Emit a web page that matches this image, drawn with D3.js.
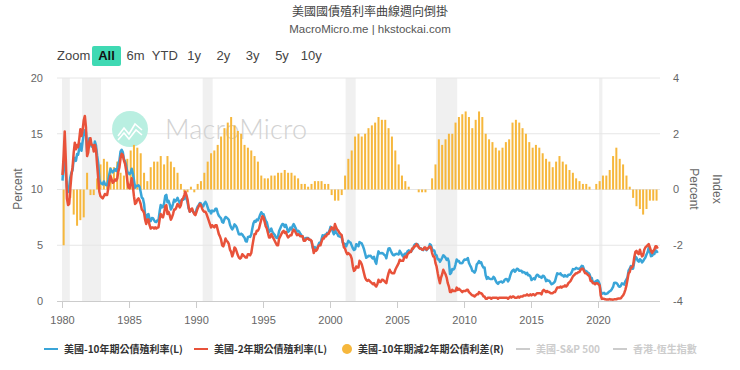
<!DOCTYPE html>
<html lang="zh-Hant">
<head>
<meta charset="UTF-8">
<title>美國國債殖利率曲線週向倒掛</title>
<script src="https://cdn.jsdelivr.net/npm/d3@7"></script>
<style>
    body {
        margin: 0;
        background: #fff;
    }

    svg {
        display: block;
        font-family: "Liberation Sans", Arial, "Noto Sans CJK TC", sans-serif;
    }

    .cjk {
        font-family: "Noto Sans CJK TC", "Liberation Sans", sans-serif;
    }

    .xaxis text {
        fill: #666;
        font-size: 11px;
    }

    .xaxis line, .xaxis path {
        stroke: #ccc;
    }
</style>
</head>
<body>
<div id="chart"></div>
<script>
// 月資料從 1980-01 開始
const startYear = 1980

// 美國-10年期公債殖利率 (月)
const us10y = [
    10.80, 12.41, 12.75, 11.47, 10.18, 9.78, 10.25, 11.10, 11.51, 11.75, 12.68, 12.84,
    12.57, 13.19, 13.12, 13.68, 14.10, 13.47, 14.28, 14.94, 15.32, 15.15, 13.39, 13.72,
    14.59, 14.43, 13.86, 13.87, 13.62, 14.30, 13.95, 13.06, 12.34, 10.91, 10.55, 10.54,
    10.46, 10.72, 10.51, 10.40, 10.38, 10.85, 11.38, 11.85, 11.65, 11.54, 11.69, 11.83,
    11.67, 11.84, 12.32, 12.63, 13.41, 13.56, 13.36, 12.72, 12.52, 12.16, 11.57, 11.50,
    11.38, 11.51, 11.86, 11.43, 10.85, 10.16, 10.31, 10.33, 10.37, 10.24, 9.78, 9.26,
    9.19, 8.70, 7.78, 7.30, 7.71, 7.80, 7.30, 7.17, 7.45, 7.43, 7.25, 7.11,
    7.08, 7.25, 7.25, 8.02, 8.61, 8.40, 8.45, 8.76, 9.42, 9.52, 8.86, 8.99,
    8.67, 8.21, 8.37, 8.72, 9.09, 8.92, 9.06, 9.26, 8.98, 8.80, 8.96, 9.11,
    9.09, 9.17, 9.36, 9.18, 8.86, 8.28, 8.02, 8.11, 8.19, 8.01, 7.87, 7.84,
    8.21, 8.47, 8.59, 8.79, 8.76, 8.48, 8.47, 8.75, 8.89, 8.72, 8.39, 8.08,
    8.09, 7.85, 8.11, 8.04, 8.07, 8.28, 8.27, 7.90, 7.65, 7.53, 7.42, 7.09,
    7.03, 7.34, 7.54, 7.48, 7.39, 7.26, 6.84, 6.59, 6.42, 6.59, 6.87, 6.77,
    6.60, 6.26, 5.98, 5.97, 6.04, 5.96, 5.81, 5.68, 5.36, 5.33, 5.72, 5.77,
    5.75, 5.97, 6.48, 6.97, 7.18, 7.10, 7.30, 7.24, 7.46, 7.74, 7.96, 7.81,
    7.78, 7.47, 7.20, 7.06, 6.63, 6.17, 6.28, 6.49, 6.20, 6.04, 5.93, 5.71,
    5.65, 5.81, 6.27, 6.51, 6.74, 6.91, 6.87, 6.64, 6.83, 6.53, 6.20, 6.30,
    6.58, 6.42, 6.69, 6.89, 6.71, 6.49, 6.22, 6.30, 6.21, 6.03, 5.88, 5.81,
    5.54, 5.57, 5.65, 5.64, 5.65, 5.50, 5.46, 5.34, 4.81, 4.53, 4.83, 4.65,
    4.72, 5.00, 5.23, 5.18, 5.54, 5.90, 5.79, 5.94, 5.92, 6.11, 6.03, 6.28,
    6.66, 6.52, 6.26, 5.99, 6.44, 6.10, 6.05, 5.83, 5.80, 5.74, 5.72, 5.24,
    5.16, 5.10, 4.89, 5.14, 5.39, 5.28, 5.24, 4.97, 4.73, 4.57, 4.65, 5.09,
    5.04, 4.91, 5.28, 5.21, 5.16, 4.93, 4.65, 4.26, 3.87, 3.94, 4.05, 4.03,
    4.05, 3.90, 3.81, 3.96, 3.57, 3.33, 3.98, 4.45, 4.27, 4.29, 4.30, 4.27,
    4.15, 4.08, 3.83, 4.35, 4.72, 4.73, 4.50, 4.28, 4.13, 4.10, 4.19, 4.23,
    4.22, 4.17, 4.50, 4.34, 4.14, 4.00, 4.18, 4.26, 4.20, 4.46, 4.54, 4.47,
    4.42, 4.57, 4.72, 4.99, 5.11, 5.11, 5.09, 4.88, 4.72, 4.73, 4.60, 4.56,
    4.76, 4.72, 4.56, 4.69, 4.75, 5.10, 5.00, 4.67, 4.52, 4.53, 4.15, 4.10,
    3.74, 3.74, 3.51, 3.68, 3.88, 4.10, 4.01, 3.89, 3.69, 3.81, 3.53, 2.42,
    2.52, 2.87, 2.82, 2.93, 3.29, 3.72, 3.56, 3.59, 3.40, 3.39, 3.40, 3.59,
    3.73, 3.69, 3.73, 3.85, 3.42, 3.20, 3.01, 2.70, 2.65, 2.54, 2.76, 3.29,
    3.39, 3.58, 3.41, 3.46, 3.17, 3.00, 3.00, 2.30, 1.98, 2.15, 2.01, 1.98,
    1.97, 1.97, 2.17, 2.05, 1.80, 1.62, 1.53, 1.68, 1.72, 1.75, 1.65, 1.72,
    1.91, 1.98, 1.96, 1.76, 1.93, 2.30, 2.58, 2.74, 2.81, 2.62, 2.72, 2.90,
    2.86, 2.71, 2.72, 2.71, 2.56, 2.60, 2.54, 2.42, 2.53, 2.30, 2.33, 2.21,
    1.88, 1.98, 2.04, 1.94, 2.20, 2.36, 2.32, 2.17, 2.17, 2.07, 2.26, 2.24,
    2.09, 1.78, 1.89, 1.81, 1.81, 1.64, 1.50, 1.56, 1.63, 1.76, 2.14, 2.49,
    2.43, 2.42, 2.48, 2.30, 2.30, 2.19, 2.32, 2.21, 2.20, 2.36, 2.35, 2.40,
    2.58, 2.86, 2.84, 2.87, 2.98, 2.91, 2.89, 2.89, 3.00, 3.15, 3.12, 2.83,
    2.71, 2.68, 2.57, 2.53, 2.40, 2.07, 2.06, 1.63, 1.70, 1.71, 1.81, 1.86,
    1.76, 1.50, 0.87, 0.66, 0.67, 0.73, 0.62, 0.65, 0.68, 0.79, 0.87, 0.93,
    1.08, 1.26, 1.61, 1.64, 1.62, 1.52, 1.32, 1.28, 1.37, 1.58, 1.56, 1.47,
    1.76, 1.93, 2.13, 2.75, 2.90, 3.14, 2.90, 2.90, 3.52, 3.98, 3.89, 3.62,
    3.53, 3.75, 3.66, 3.46, 3.57, 3.75, 3.90, 4.17, 4.38, 4.80, 4.50, 4.02,
    4.06, 4.21, 4.21, 4.54, 4.48, 4.31
]

// 美國-2年期公債殖利率 (月)
const us2y = [
    11.3, 13.1, 15.2, 12.6, 9.2, 8.6, 8.7, 10.1, 11.3, 12.0, 13.3, 14.2,
    13.6, 14.0, 13.8, 14.5, 15.4, 14.8, 15.3, 16.2, 16.6, 15.6, 13.0, 13.3,
    14.3, 14.6, 14.0, 14.0, 13.4, 14.0, 13.6, 12.2, 11.0, 9.8, 9.4, 9.3,
    9.2, 9.4, 9.6, 9.5, 9.5, 10.1, 10.7, 11.2, 10.9, 10.6, 10.7, 10.9,
    10.8, 11.0, 11.6, 12.0, 12.8, 13.2, 13.1, 12.6, 12.3, 11.7, 10.8, 10.2,
    10.1, 10.5, 11.0, 10.3, 9.4, 8.7, 8.8, 9.1, 9.2, 9.0, 8.7, 8.2,
    8.1, 7.9, 7.3, 6.9, 7.3, 7.3, 6.8, 6.5, 6.6, 6.6, 6.5, 6.6,
    6.5, 6.6, 6.6, 7.3, 7.8, 7.6, 7.5, 7.9, 8.5, 8.6, 7.8, 8.0,
    7.7, 7.3, 7.5, 7.8, 8.2, 8.2, 8.4, 8.7, 8.6, 8.4, 8.6, 9.1,
    9.2, 9.5, 9.8, 9.5, 9.1, 8.4, 8.0, 8.2, 8.3, 8.0, 7.8, 7.7,
    8.0, 8.3, 8.5, 8.7, 8.6, 8.3, 8.1, 8.0, 8.0, 7.8, 7.5, 7.2,
    6.9, 6.6, 6.8, 6.7, 6.6, 6.8, 6.8, 6.4, 6.0, 5.8, 5.5, 5.0,
    4.9, 5.2, 5.6, 5.4, 5.3, 5.1, 4.6, 4.4, 4.0, 4.3, 4.8, 4.7,
    4.4, 4.1, 3.9, 3.8, 3.9, 4.2, 4.1, 4.0, 3.9, 3.9, 4.2, 4.2,
    4.1, 4.3, 4.9, 5.5, 6.0, 6.0, 6.3, 6.3, 6.5, 6.9, 7.3, 7.6,
    7.5, 7.1, 6.7, 6.5, 6.1, 5.7, 5.7, 6.0, 5.8, 5.6, 5.4, 5.2,
    5.0, 5.0, 5.6, 5.8, 6.0, 6.2, 6.3, 6.1, 6.2, 5.9, 5.7, 5.8,
    5.9, 5.9, 6.2, 6.4, 6.3, 6.1, 5.9, 6.0, 5.9, 5.8, 5.8, 5.8,
    5.4, 5.4, 5.5, 5.6, 5.6, 5.5, 5.5, 5.4, 4.9, 4.3, 4.6, 4.5,
    4.6, 4.9, 5.0, 5.0, 5.3, 5.6, 5.6, 5.8, 5.8, 6.0, 6.0, 6.2,
    6.4, 6.6, 6.5, 6.4, 6.9, 6.6, 6.4, 6.3, 6.1, 6.0, 5.9, 5.3,
    4.8, 4.7, 4.4, 4.2, 4.3, 4.2, 4.1, 3.8, 3.1, 2.7, 2.8, 3.1,
    3.0, 3.0, 3.6, 3.5, 3.3, 2.9, 2.5, 2.1, 1.9, 1.8, 1.9, 1.8,
    1.7, 1.6, 1.5, 1.6, 1.4, 1.3, 1.5, 1.9, 1.7, 1.7, 1.9, 1.9,
    1.8, 1.7, 1.6, 2.1, 2.5, 2.8, 2.6, 2.5, 2.5, 2.5, 2.8, 3.0,
    3.2, 3.4, 3.7, 3.6, 3.6, 3.6, 3.9, 4.0, 3.9, 4.2, 4.3, 4.4,
    4.4, 4.7, 4.7, 4.9, 4.9, 5.1, 5.0, 4.8, 4.7, 4.7, 4.6, 4.6,
    4.8, 4.8, 4.6, 4.7, 4.8, 4.9, 4.8, 4.3, 4.0, 4.0, 3.4, 3.1,
    2.5, 2.0, 1.6, 2.1, 2.4, 2.8, 2.6, 2.4, 2.1, 1.6, 1.3, 0.8,
    0.8, 1.0, 0.9, 0.9, 0.9, 1.2, 1.0, 1.1, 1.0, 0.9, 0.8, 0.9,
    0.9, 0.9, 1.0, 1.0, 0.8, 0.7, 0.6, 0.5, 0.5, 0.4, 0.5, 0.6,
    0.6, 0.8, 0.7, 0.7, 0.6, 0.4, 0.4, 0.2, 0.2, 0.3, 0.3, 0.3,
    0.2, 0.3, 0.3, 0.3, 0.3, 0.3, 0.2, 0.3, 0.3, 0.3, 0.3, 0.3,
    0.3, 0.3, 0.3, 0.2, 0.3, 0.4, 0.3, 0.4, 0.4, 0.3, 0.3, 0.3,
    0.4, 0.3, 0.4, 0.4, 0.4, 0.5, 0.5, 0.5, 0.6, 0.5, 0.5, 0.6,
    0.5, 0.6, 0.6, 0.5, 0.6, 0.7, 0.7, 0.7, 0.7, 0.6, 0.9, 1.0,
    0.9, 0.8, 0.9, 0.8, 0.8, 0.7, 0.7, 0.7, 0.8, 0.8, 1.0, 1.2,
    1.2, 1.2, 1.3, 1.2, 1.3, 1.3, 1.4, 1.3, 1.4, 1.6, 1.7, 1.8,
    2.0, 2.2, 2.3, 2.4, 2.5, 2.5, 2.6, 2.6, 2.8, 2.9, 2.9, 2.7,
    2.5, 2.5, 2.4, 2.3, 2.2, 1.8, 1.8, 1.6, 1.6, 1.5, 1.6, 1.6,
    1.5, 1.4, 0.5, 0.2, 0.2, 0.2, 0.15, 0.14, 0.13, 0.14, 0.17, 0.13,
    0.13, 0.12, 0.15, 0.16, 0.16, 0.2, 0.22, 0.22, 0.24, 0.4, 0.5, 0.7,
    1.0, 1.4, 1.9, 2.5, 2.6, 3.0, 3.0, 3.2, 3.9, 4.4, 4.5, 4.3,
    4.2, 4.6, 4.3, 4.0, 4.1, 4.6, 4.8, 4.9, 5.0, 5.1, 4.8, 4.5,
    4.3, 4.5, 4.6, 4.9, 4.9, 4.7
]

// 美國-10年期減2年期公債利差 (季)
const spread = [
    -2.0, 0.3, -0.3, -0.9,
    -1.3, -1.1, -1.0, 0.6,
    -0.2, -0.2, 0.4, 0.9,
    1.1, 1.0, 0.8, 0.8,
    1.0, 0.6, 0.5, 1.1,
    1.4, 1.6, 1.5, 1.3,
    0.6, 0.3, 0.8, 1.0,
    1.0, 1.2, 0.9, 1.2,
    1.0, 0.8, 0.6, 0.2,
    -0.1, -0.1, 0.1, -0.1,
    0.2, 0.3, 0.6, 1.0,
    1.3, 1.4, 1.6, 1.9,
    2.2, 2.4, 2.6, 2.3,
    2.1, 2.0, 1.6, 1.5,
    1.4, 1.2, 1.0, 0.5,
    0.4, 0.4, 0.5, 0.5,
    0.6, 0.6, 0.7, 0.6,
    0.6, 0.5, 0.4, 0.2,
    0.2, 0.1, 0.2, 0.3,
    0.3, 0.3, 0.2, 0.2,
    -0.2, -0.4, -0.4, -0.2,
    0.5, 1.1, 1.4, 1.9,
    2.0, 1.9, 2.0, 2.2,
    2.3, 2.4, 2.6, 2.5,
    2.5, 2.2, 1.9, 1.4,
    0.9, 0.5, 0.3, 0.1,
    0.0, 0.0, -0.1, -0.1,
    -0.1, 0.0, 0.4, 0.9,
    1.8, 1.6, 1.8, 2.0,
    2.0, 2.4, 2.6, 2.7,
    2.8, 2.6, 2.2, 2.5,
    2.8, 2.6, 2.0, 1.8,
    1.7, 1.5, 1.4, 1.5,
    1.7, 1.8, 2.4, 2.5,
    2.4, 2.2, 2.0, 1.7,
    1.5, 1.6, 1.5, 1.3,
    1.1, 1.0, 0.8, 1.0,
    1.2, 1.0, 0.9, 0.7,
    0.6, 0.4, 0.3, 0.2,
    0.2, 0.1, 0.0, 0.2,
    0.3, 0.5, 0.5, 0.7,
    1.2, 1.5, 1.1, 0.9,
    0.5, 0.1, -0.3, -0.6,
    -0.7, -0.9, -0.7, -0.4,
    -0.4, -0.4
]

// 經濟衰退區間
const recessions = [
    ['1980-01-01', '1980-07-31'],
    ['1981-07-01', '1982-11-30'],
    ['1990-07-01', '1991-03-31'],
    ['2001-03-01', '2001-11-30'],
    ['2007-12-01', '2009-06-30'],
    ['2020-02-01', '2020-04-30']
]

const xTicks = [1980, 1985, 1990, 1995, 2000, 2005, 2010, 2015, 2020]
const leftTicks = [0, 5, 10, 15, 20]
const rightTicks = [-4, -2, 0, 2, 4]
const rangeButtons = ['6m', 'YTD', '1y', '2y', '3y', '5y', '10y']
const legendNames = ['美國-10年期公債殖利率(L)', '美國-2年期公債殖利率(L)', '美國-10年期減2年期公債利差(R)', '美國-S&P 500', '香港-恆生指數']

const blue = '#3aa5d8'
const red = '#e8523a'
const orange = '#f6b73c'

const width = 740, height = 370
const plotLeft = 57, plotRight = 660, plotTop = 78, plotBottom = 301

const svg = d3.select('#chart').append('svg')
    .attr('width', width)
    .attr('height', height)

// 比例尺
const x = d3.scaleTime()
    .domain([new Date(1980, 0, 1), new Date(2020, 0, 1)])
    .range([62, 598])
const yL = d3.scaleLinear().domain([0, 20]).range([plotBottom, plotTop])
const yR = d3.scaleLinear().domain([-4, 4]).range([plotBottom, plotTop])

const monthDate = i => new Date(startYear, i, 15)
const quarterDate = i => new Date(startYear, i * 3 + 1, 15)

// 標題
svg.append('text').attr('class', 'cjk')
    .attr('x', 370).attr('y', 16)
    .attr('text-anchor', 'middle')
    .attr('font-size', 12).attr('fill', '#444')
    .text('美國國債殖利率曲線週向倒掛')
svg.append('text')
    .attr('x', 370).attr('y', 33)
    .attr('text-anchor', 'middle')
    .attr('font-size', 11.5).attr('fill', '#555')
    .text('MacroMicro.me | hkstockai.com')

// 時間範圍按鈕
svg.append('text')
    .attr('x', 57).attr('y', 60)
    .attr('font-size', 13).attr('fill', '#444')
    .text('Zoom')
svg.append('rect')
    .attr('x', 92).attr('y', 46).attr('width', 29).attr('height', 20)
    .attr('rx', 2).attr('fill', '#3fd9b3')
svg.append('text')
    .attr('x', 106.5).attr('y', 60)
    .attr('text-anchor', 'middle')
    .attr('font-size', 13).attr('font-weight', 'bold').attr('fill', '#111')
    .text('All')
svg.append('g').selectAll('text')
    .data(rangeButtons)
    .enter()
    .append('text')
    .attr('x', (d, i) => 135.5 + i * 29.3)
    .attr('y', 60)
    .attr('text-anchor', 'middle')
    .attr('font-size', 13).attr('fill', '#444')
    .text(d => d)

// 衰退陰影
svg.append('g').selectAll('rect')
    .data(recessions)
    .enter()
    .append('rect')
    .attr('x', d => x(new Date(d[0])))
    .attr('width', d => x(new Date(d[1])) - x(new Date(d[0])))
    .attr('y', plotTop)
    .attr('height', plotBottom - plotTop)
    .attr('fill', '#f0f0f0')

// 格線
svg.append('g').selectAll('line')
    .data(leftTicks.filter(d => d > 0))
    .enter()
    .append('line')
    .attr('x1', plotLeft).attr('x2', plotRight)
    .attr('y1', d => yL(d)).attr('y2', d => yL(d))
    .attr('stroke', '#e6e6e6')

// 浮水印
const wm = svg.append('g')
wm.append('circle')
    .attr('cx', 130).attr('cy', 129).attr('r', 18)
    .attr('fill', '#b9efe1')
wm.append('polyline')
    .attr('points', '118,136 124,128 129,134 135,124 142,130')
    .attr('fill', 'none').attr('stroke', '#fff').attr('stroke-width', 1.6)
wm.append('polyline')
    .attr('points', '118,140 124,133 129,139 136,130 142,135')
    .attr('fill', 'none').attr('stroke', '#fff').attr('stroke-width', 1.6)
wm.append('text')
    .attr('x', 165).attr('y', 139)
    .attr('font-family', 'Lato, "Open Sans", sans-serif')
    .attr('font-weight', 300)
    .attr('font-size', 27).attr('fill', '#d2d2d2')
    .attr('textLength', 142)
    .text('MacroMicro')

// 利差柱狀
svg.append('g').selectAll('rect')
    .data(spread)
    .enter()
    .append('rect')
    .attr('x', (d, i) => x(quarterDate(i)) - 1)
    .attr('width', 2)
    .attr('y', d => Math.min(yR(d), yR(0)))
    .attr('height', d => Math.abs(yR(d) - yR(0)))
    .attr('fill', orange)

// 殖利率折線
const line = d3.line()
    .x((d, i) => x(monthDate(i)))
    .y(d => yL(d))

svg.append('path')
    .datum(us10y)
    .attr('d', line)
    .attr('fill', 'none')
    .attr('stroke', blue)
    .attr('stroke-width', 2.5)
    .attr('stroke-linejoin', 'round')

svg.append('path')
    .datum(us2y)
    .attr('d', line)
    .attr('fill', 'none')
    .attr('stroke', red)
    .attr('stroke-width', 2.5)
    .attr('stroke-linejoin', 'round')

// X 軸
const xAxis = svg.append('g')
    .attr('class', 'xaxis')
    .attr('transform', `translate(0,${plotBottom})`)
    .call(d3.axisBottom(x)
        .tickValues(xTicks.map(y => new Date(y, 0, 1)))
        .tickFormat(d3.timeFormat('%Y'))
        .tickSize(7)
        .tickPadding(8)
        .tickSizeOuter(0))
xAxis.select('.domain').attr('d', `M${plotLeft},0.5H${plotRight}`)

// 左軸標籤
svg.append('g').selectAll('text')
    .data(leftTicks)
    .enter()
    .append('text')
    .attr('x', 43).attr('y', d => yL(d))
    .attr('dy', '0.35em')
    .attr('text-anchor', 'end')
    .attr('font-size', 11).attr('fill', '#666')
    .text(d => d)

// 右軸標籤
svg.append('g').selectAll('text')
    .data(rightTicks)
    .enter()
    .append('text')
    .attr('x', 673).attr('y', d => yR(d))
    .attr('dy', '0.35em')
    .attr('font-size', 11).attr('fill', '#666')
    .text(d => d)

// 軸標題
svg.append('text')
    .attr('transform', 'translate(22,189) rotate(-90)')
    .attr('text-anchor', 'middle')
    .attr('font-size', 12).attr('fill', '#666')
    .text('Percent')
svg.append('text')
    .attr('transform', 'translate(690,189) rotate(90)')
    .attr('text-anchor', 'middle')
    .attr('font-size', 12).attr('fill', '#666')
    .text('Percent')
svg.append('text')
    .attr('transform', 'translate(713,189) rotate(90)')
    .attr('text-anchor', 'middle')
    .attr('font-size', 12).attr('fill', '#666')
    .text('Index')

// 圖例
const legendX = [44, 194, 346, 516, 613]
const legendColors = [blue, red, orange, '#ccc', '#ccc']
const legend = svg.append('g').selectAll('g')
    .data(legendNames)
    .enter()
    .append('g')
    .attr('transform', (d, i) => `translate(${legendX[i]},349)`)

legend.each(function (d, i) {
    const g = d3.select(this)
    if (i === 2) {
        g.append('circle').attr('cx', 1).attr('cy', 0).attr('r', 5).attr('fill', orange)
    } else {
        g.append('line')
            .attr('x1', 0).attr('x2', 14)
            .attr('stroke', legendColors[i]).attr('stroke-width', 2)
    }
    g.append('text')
        .attr('class', 'cjk')
        .attr('x', i === 2 ? 12 : 20)
        .attr('dy', '0.35em')
        .attr('font-size', 10)
        .attr('font-weight', 'bold')
        .attr('fill', i < 3 ? '#333' : '#ccc')
        .text(d)
})
</script>
</body>
</html>
